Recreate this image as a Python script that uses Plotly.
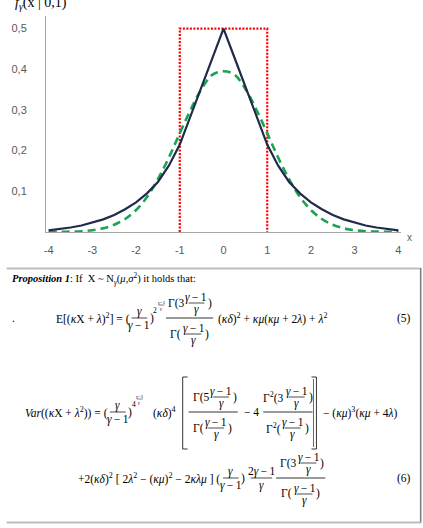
import plotly.graph_objects as go

# ---------------- data ----------------
x_vals = [-4.0, -3.75, -3.5, -3.25, -3.0, -2.75, -2.5, -2.25, -2.0, -1.75, -1.5, -1.25,
          -1.0, -0.75, -0.5, -0.25, 0.0, 0.25, 0.5, 0.75, 1.0, 1.25, 1.5, 1.75,
          2.0, 2.25, 2.5, 2.75, 3.0, 3.25, 3.5, 3.75, 4.0]
gamma_density = [0.004, 0.007, 0.011, 0.016, 0.023, 0.031, 0.042, 0.056, 0.073, 0.095, 0.123, 0.163,
                 0.215, 0.286, 0.358, 0.429, 0.500, 0.429, 0.358, 0.286, 0.215, 0.163, 0.123, 0.095,
                 0.073, 0.056, 0.042, 0.031, 0.023, 0.016, 0.011, 0.007, 0.004]
normal_density = [0.0002, 0.0004, 0.001, 0.002, 0.0045, 0.009, 0.018, 0.032, 0.054, 0.086, 0.130, 0.183,
                  0.243, 0.301, 0.352, 0.387, 0.395, 0.387, 0.352, 0.301, 0.243, 0.183, 0.130, 0.086,
                  0.054, 0.032, 0.018, 0.009, 0.0045, 0.002, 0.001, 0.0004, 0.0002]
uniform_x = [-1, -1, 1, 1]
uniform_y = [0, 0.5, 0.5, 0]

x_ticks = [-4, -3, -2, -1, 0, 1, 2, 3, 4]
x_ticktext = ["-4", "-3", "-2", "-1", "0", "1", "2", "3", "4"]
y_ticks = [0.1, 0.2, 0.3, 0.4, 0.5]
y_ticktext = ["0,1", "0,2", "0,3", "0,4", "0,5"]

# ---------------- layout geometry ----------------
WIDTH, HEIGHT = 423, 528
L, T, W, H = 40, 16, 361, 216
SERIF = "Liberation Serif"
SANS = "Liberation Sans"
FS = 11.5


def px(x):
    return (x - L) / W


def py(y):
    return (T + H - y) / H


annotations = []
shapes = []


def txt(x, y, s, size=FS, xanchor="center", family=SERIF, color="#000000"):
    annotations.append(dict(x=px(x), y=py(y), xref="paper", yref="paper", text=s,
                            showarrow=False, xanchor=xanchor, yanchor="middle",
                            font=dict(family=family, size=size, color=color)))


def hline(x0, x1, y, width=0.8, color="#000000"):
    shapes.append(dict(type="line", xref="paper", yref="paper", x0=px(x0), x1=px(x1),
                       y0=py(y), y1=py(y), line=dict(color=color, width=width)))


def vline(x, y0, y1, width=0.8, color="#000000"):
    shapes.append(dict(type="line", xref="paper", yref="paper", x0=px(x), x1=px(x),
                       y0=py(y0), y1=py(y1), line=dict(color=color, width=width)))


def frac(xc, ybar, num, den, hw, size=FS, dy=7):
    txt(xc, ybar - dy, num, size)
    txt(xc, ybar + dy + 0.5, den, size)
    hline(xc - hw, xc + hw, ybar, width=0.7 if size > 7 else 0.5)


def gamma_frac(xc_bar, hw, ybar, top_prefix, top_fx, bot_prefix, bot_fx):
    """Γ(a (γ-1)/γ) / Γ((γ-1)/γ) style fraction."""
    hline(xc_bar - hw, xc_bar + hw, ybar)
    yt, yb = ybar - 15, ybar + 16
    txt(top_fx - 10.5, yt, top_prefix, FS, "right")
    frac(top_fx, yt, GM1, G, 8, dy=6)
    txt(top_fx + 10, yt, ")", FS, "left")
    txt(bot_fx - 10.5, yb, bot_prefix, FS, "right")
    frac(bot_fx, yb, GM1, G, 8, dy=6)
    txt(bot_fx + 10, yb, ")", FS, "left")


G = "<i>γ</i>"
GM1 = "<i>γ</i>\u2009−\u20091"
K = "<i>κ</i>"
MU = "<i>μ</i>"
LA = "<i>λ</i>"
DE = "<i>δ</i>"

# ---------------- chart ----------------
fig = go.Figure()
fig.add_trace(go.Scatter(x=uniform_x, y=uniform_y, mode="lines",
                         line=dict(color="#FF0000", width=2.2, dash="2px,1.5px")))
fig.add_trace(go.Scatter(x=x_vals, y=normal_density, mode="lines", line_shape="spline",
                         line=dict(color="#1BA353", width=2.6, dash="8px,5px")))
fig.add_trace(go.Scatter(x=x_vals, y=gamma_density, mode="lines",
                         line=dict(color="#1F2B48", width=2.2)))

# axis captions
txt(35, 3, "<i>f</i><sub><i>γ</i></sub>(x | 0,1)", size=14)
txt(410, 237, "x", size=10, family=SANS, color="#595959")

# ---------------- proposition box ----------------
hline(0, 421, 268.5, width=2, color="#BDBDBD")
vline(421, 268, 523, width=1.5, color="#7A7A7A")
hline(0, 421, 522.5, width=2, color="#BDBDBD")

txt(3, 279, "<b><i>Proposition 1</i></b>: If  X ~ N<sub><i>γ</i></sub>(<i>μ</i>,<i>σ</i><sup>2</sup>) it holds that:",
    size=10.5, xanchor="left")

# equation (5)
y5 = 318
txt(3, y5, ".", FS, "left")
txt(127, y5, "E[(" + K + "X + " + LA + ")<sup>2</sup>] = (", FS, "right")
frac(135, y5, G, GM1, 8)
txt(143.5, y5, ")", FS, "left")
txt(151, y5 - 8, "2", 7.5)
frac(157.5, y5 - 13, "<i>γ</i>−1", G, 3, size=5, dy=3)
gamma_frac(186, 24, y5, "Γ(3", 193, "Γ(", 190)
txt(213, y5, "(" + K + DE + ")<sup>2</sup> + " + K + MU + "(" + K + MU + " + 2" + LA + ") + " + LA + "<sup>2</sup>",
    FS, "left")
txt(404, y5, "(5)", FS)

# Var equation
yv = 412
txt(105, yv, "<i>Var</i>((" + K + "X + " + LA + "<sup>2</sup>)) = (", FS, "right")
frac(113, yv, G, GM1, 8)
txt(121.5, yv, ")", FS, "left")
txt(129, yv - 8, "4", 7.5)
frac(135.5, yv - 13, "<i>γ</i>−1", G, 3, size=5, dy=3)
txt(147, yv, "(" + K + DE + ")<sup>4</sup>", FS, "left")
# left big bracket
vline(179, 377, 449)
hline(179, 184, 377)
hline(179, 184, 449)
# first fraction
gamma_frac(210, 25, yv, "Γ(5", 218, "Γ(", 213)
txt(249, yv, "− 4", FS)
# second fraction
gamma_frac(286, 25, yv, "Γ<sup>2</sup>(3", 295, "Γ<sup>2</sup>(", 291)
# right big bracket
vline(315, 377, 449)
vline(312, 379, 447, width=0.6)
hline(310, 315, 377)
hline(310, 315, 449)
txt(320, yv, "− (" + K + MU + ")<sup>3</sup>(" + K + MU + " + 4" + LA + ")", FS, "left")

# equation (6)
y6 = 478
txt(219, y6, "+2(" + K + DE + ")<sup>2</sup> [ 2" + LA + "<sup>2</sup> − (" + K + MU + ")<sup>2</sup> − 2" + K + LA + MU + " ] (",
    FS, "right")
frac(228, y6, G, GM1, 8)
txt(236.5, y6, ")", FS, "left")
frac(259, y6, "2<i>γ</i>\u2009−\u20091", G, 11)
gamma_frac(299, 25, y6, "Γ(3", 307, "Γ(", 303)
txt(404, y6, "(6)", FS)

fig.update_layout(
    width=WIDTH, height=HEIGHT,
    margin=dict(l=L, r=WIDTH - L - W, t=T, b=HEIGHT - T - H, pad=0),
    paper_bgcolor="white", plot_bgcolor="white",
    showlegend=False,
    annotations=annotations, shapes=shapes,
    xaxis=dict(range=[-4.06, 4.06], tickvals=x_ticks, ticktext=x_ticktext,
               showgrid=False, zeroline=False, showline=True, linecolor="#A6A6A6", linewidth=1,
               ticks="", ticklabelstandoff=8,
               tickfont=dict(family=SANS, size=11, color="#595959")),
    yaxis=dict(range=[0, 0.531], tickvals=y_ticks, ticktext=y_ticktext,
               showgrid=False, zeroline=False, showline=True, linecolor="#A6A6A6", linewidth=1,
               ticks="", ticklabelstandoff=16,
               tickfont=dict(family=SANS, size=11, color="#595959")),
)

fig.write_html("out.html")
